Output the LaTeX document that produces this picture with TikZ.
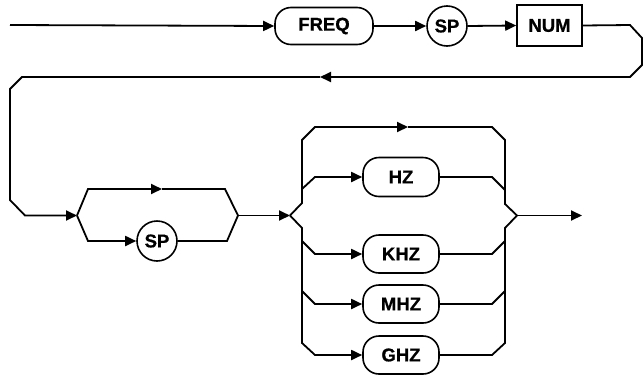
\documentclass[tikz,border=0pt]{standalone}
\usepackage{fontspec}
\setmainfont{Liberation Sans}
\newfontfamily\heavyfont[FakeBold=0.8]{Liberation Sans Bold}
\usetikzlibrary{arrows.meta}
\begin{document}
\begin{tikzpicture}[x=1pt,y=-1pt,
  wire/.style={line width=1.8pt,line join=miter},
  arr/.style={wire,-{Triangle[length=11pt,width=10pt]}},
  lbl/.style={font=\heavyfont\fontsize{18.5}{18.5}\selectfont,line width=1.6pt,inner sep=0pt},
  term/.style={lbl,draw,rounded corners=16pt,minimum height=37pt},
  circ/.style={lbl,draw,circle,minimum size=40pt},
  sq/.style={lbl,draw,rectangle,minimum width=65pt,minimum height=41pt}]
\useasboundingbox (0,0) rectangle (644,378);
% nodes
\node[term,minimum width=98pt] (freq) at (324,26) {FREQ};
\node[circ] (sp1) at (447,26) {SP};
\node[sq] (num) at (549.5,25.5) {NUM};
\node[circ] (sp2) at (157,241) {SP};
\node[term,minimum width=76pt,minimum height=39pt] (hz) at (401,177) {HZ};
\node[term,minimum width=76pt,minimum height=38pt] (khz) at (401,254) {KHZ};
\node[term,minimum width=76pt,minimum height=38pt] (mhz) at (401,304) {MHZ};
\node[term,minimum width=76pt,minimum height=38pt] (ghz) at (401,355) {GHZ};
% coordinates
\coordinate (start) at (10,25);
\coordinate (r1) at (630,25);
\coordinate (r2) at (642,38);
\coordinate (r3) at (642,65);
\coordinate (r4) at (630,77);
\coordinate (rt) at (320,77);
\coordinate (l1) at (22,77);
\coordinate (l2) at (10,89);
\coordinate (l3) at (10,200);
\coordinate (l4) at (25,215.5);
\coordinate (A) at (77,215.5);
\coordinate (u1) at (88,189);
\coordinate (ut) at (162,189);
\coordinate (u2) at (225,189);
\coordinate (d1) at (88,241);
\coordinate (d2) at (227,241);
\coordinate (B) at (238,215.5);
\coordinate (C) at (290,215.5);
\coordinate (c1) at (302,203);
\coordinate (c2) at (302,140);
\coordinate (c3) at (315,127);
\coordinate (tt) at (408,127);
\coordinate (t2) at (492,127);
\coordinate (t3) at (505,140);
\coordinate (t4) at (505,204);
\coordinate (D) at (517,215.5);
\coordinate (c4) at (302,228);
\coordinate (c5) at (302,343);
\coordinate (c6) at (315,355);
\coordinate (t5) at (505,228);
\coordinate (t6) at (505,343);
\coordinate (g2) at (492,355);
\coordinate (hl1) at (302,189);
\coordinate (hl2) at (315,177);
\coordinate (kl1) at (302,241);
\coordinate (kl2) at (315,254);
\coordinate (ml1) at (302,291);
\coordinate (ml2) at (315,304);
\coordinate (hr1) at (492,177);
\coordinate (hr2) at (505,190);
\coordinate (kr1) at (492,254);
\coordinate (kr2) at (505,241);
\coordinate (mr1) at (492,304);
\coordinate (mr2) at (505,291);
\coordinate (out) at (582,215.5);
% top row
\draw[arr] (start) -- (freq.west);
\draw[arr] (freq.east) -- (sp1.west);
\draw[arr] (sp1.east) -- (num.west);
\draw[arr] (num.east) -- (r1) -- (r2) -- (r3) -- (r4) -- (rt);
\draw[arr] (rt) -- (l1) -- (l2) -- (l3) -- (l4) -- (A);
% optional SP
\draw[arr] (A) -- (u1) -- (ut);
\draw[wire] (ut) -- (u2) -- (B);
\draw[arr] (A) -- (d1) -- (sp2.west);
\draw[wire] (sp2.east) -- (d2) -- (B);
\draw[arr] (B) -- (C);
% units
\draw[arr] (C) -- (c1) -- (c2) -- (c3) -- (tt);
\draw[wire] (tt) -- (t2) -- (t3) -- (t4) -- (D);
\draw[arr] (C) -- (c4) -- (c5) -- (c6) -- (ghz.west);
\draw[wire] (ghz.east) -- (g2) -- (t6) -- (t5) -- (D);
\draw[arr] (hl1) -- (hl2) -- (hz.west);
\draw[arr] (kl1) -- (kl2) -- (khz.west);
\draw[arr] (ml1) -- (ml2) -- (mhz.west);
\draw[wire] (hz.east) -- (hr1) -- (hr2);
\draw[wire] (khz.east) -- (kr1) -- (kr2);
\draw[wire] (mhz.east) -- (mr1) -- (mr2);
\draw[arr] (D) -- (out);
\end{tikzpicture}
\end{document}
